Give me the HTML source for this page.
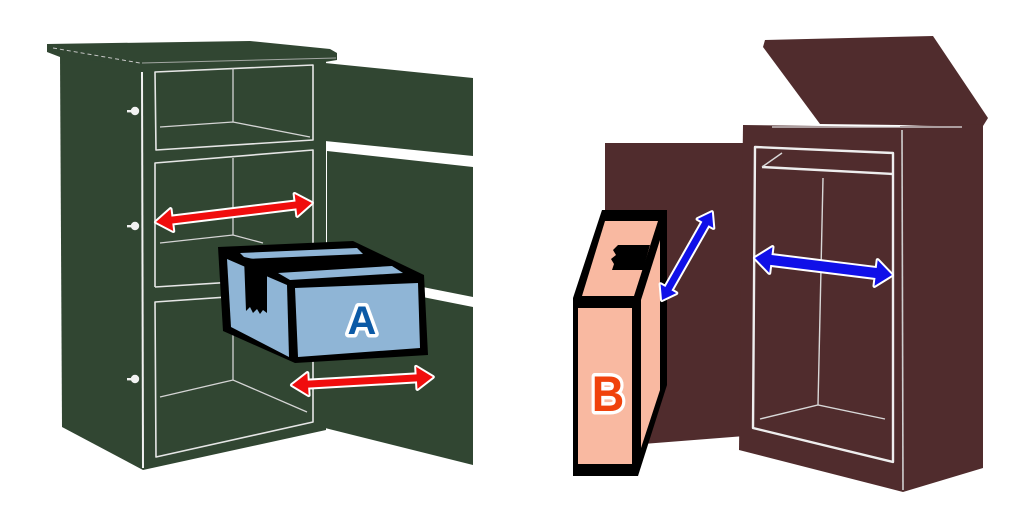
<!DOCTYPE html>
<html>
<head>
<meta charset="utf-8">
<style>
  html,body{margin:0;padding:0;background:#ffffff;}
  body{width:1024px;height:512px;overflow:hidden;}
  svg{display:block;}
</style>
</head>
<body>
<svg width="1024" height="512" viewBox="0 0 1024 512" xmlns="http://www.w3.org/2000/svg">
  <rect x="0" y="0" width="1024" height="512" fill="#ffffff"/>

  <!-- ================= LEFT CABINET (green) ================= -->
  <g fill="#314632">
    <!-- open door panels -->
    <polygon points="325,63 473,78 473,156 325,141"/>
    <polygon points="327,151 473,167 473,297 327,268"/>
    <polygon points="327,278 473,307 473,465 325,428"/>
    <!-- side panel -->
    <polygon points="60,55 141,63 143,470 62,427"/>
    <!-- front -->
    <polygon points="140,62 326,60 326,430 143,470"/>
    <!-- top slab -->
    <polygon points="47,44 250,41 330,49 337,53 337,60 325,62 140,65 60,57 47,52"/>
  </g>
  <!-- slab edge highlights -->
  <line x1="53" y1="48" x2="140" y2="63" stroke="#c8c8c8" stroke-width="1" stroke-dasharray="4 3"/>
  <line x1="142" y1="63" x2="336" y2="58" stroke="#bfbfbf" stroke-width="1" opacity="0.8"/>
  <!-- front/side edge -->
  <line x1="142" y1="72" x2="143" y2="468" stroke="#f2f2f2" stroke-width="2"/>

  <!-- hinges -->
  <g fill="#f2f2f2">
    <circle cx="135" cy="111" r="4.2"/><rect x="127" y="110" width="8" height="2.4"/>
    <circle cx="135" cy="226" r="4.2"/><rect x="127" y="225" width="8" height="2.4"/>
    <circle cx="135" cy="379" r="4.2"/><rect x="127" y="378" width="8" height="2.4"/>
  </g>

  <!-- inner compartments -->
  <g fill="none" stroke="#e6e6e6" stroke-width="1.6" stroke-linejoin="round">
    <polygon points="155,72 313,65 313,140 156,150"/>
    <polyline points="155,287 155,163 313,150 313,422 156,457 155,302 313,291"/>
    <line x1="155" y1="287" x2="313" y2="277"/>
  </g>
  <g fill="none" stroke="#d4d4d4" stroke-width="1.3">
    <polyline points="233,68 233,122"/>
    <polyline points="160,127 233,122 310,137"/>
    <polyline points="233,158 233,235"/>
    <polyline points="160,243 233,235 263,243"/>
    <polyline points="233,297 233,380"/>
    <polyline points="160,397 233,380 307,412"/>
  </g>

  <!-- ================= BOX A ================= -->
  <polygon points="218,247 353,241 424,275 428,355 295,363 223,331" fill="#000000"/>
  <polygon points="227,259 287,285 289,357 231,327" fill="#8fb5d6"/>
  <polygon points="295,288 418,283 420,348 298,357" fill="#8fb5d6"/>
  <polygon points="240,253 357,248 363,254 246,259" fill="#8fb5d6"/>
  <polygon points="278,273 392,266 403,273 290,280" fill="#8fb5d6"/>
  <!-- tape on side -->
  <polygon points="244,257 267,262 267,313 263,310 260,314 257,309 253,313 250,307 246,311" fill="#000000"/>
  <text x="362" y="334" text-anchor="middle" font-family="'Liberation Sans', sans-serif" font-weight="bold" font-size="40" fill="#0c5aa6" stroke="#ffffff" stroke-width="7" stroke-linejoin="round" paint-order="stroke">A</text>

  <!-- red arrows -->
  <g fill="#f00d0d" stroke="#ffffff" stroke-width="4" stroke-linejoin="round" paint-order="stroke">
    <path transform="translate(156,222) rotate(-6.95)" d="M0,0 L16,-11 L16,-3.5 L141,-3.5 L141,-11 L157,0 L141,11 L141,3.5 L16,3.5 L16,11 Z"/>
    <path transform="translate(292,385) rotate(-3.25)" d="M0,0 L16,-11 L16,-3.5 L125,-3.5 L125,-11 L141,0 L125,11 L125,3.5 L16,3.5 L16,11 Z"/>
  </g>

  <!-- ================= RIGHT CABINET (brown) ================= -->
  <g fill="#502c2d">
    <!-- open door -->
    <polygon points="605,143 745,143 745,436 605,447"/>
    <!-- lid -->
    <polygon points="763,47 765,40 933,36 988,118 983,126 820,124"/>
    <!-- front -->
    <polygon points="743,125 902,127 903,492 739,450"/>
    <!-- right side -->
    <polygon points="900,126 983,124 983,468 903,492"/>
  </g>
  <!-- top highlight -->
  <line x1="772" y1="127" x2="962" y2="127" stroke="#e0e0e0" stroke-width="1.5" opacity="0.85"/>
  <!-- front/side edge -->
  <line x1="902" y1="130" x2="903" y2="490" stroke="#cfcfcf" stroke-width="1.6"/>
  <!-- inner frame -->
  <g fill="none" stroke="#eeeeee" stroke-width="2.4" stroke-linejoin="round">
    <polygon points="755,147 893,153 893,462 753,428"/>
    <line x1="762" y1="167" x2="893" y2="174"/>
  </g>
  <g fill="none" stroke="#d8d8d8" stroke-width="1.4">
    <line x1="762" y1="167" x2="782" y2="153"/>
    <line x1="823" y1="178" x2="818" y2="405"/>
    <polyline points="760,419 818,405 885,419"/>
  </g>

  <!-- ================= BOX B ================= -->
  <polygon points="573,298 602,210 667,210 667,385 638,476 573,476" fill="#000000"/>
  <polygon points="582,296 605,221 658,221 634,296" fill="#f9b9a1"/>
  <polygon points="641,300 660,240 660,390 641,448" fill="#f9b9a1"/>
  <polygon points="578,308 632,308 632,464 578,464" fill="#f9b9a1"/>
  <!-- tape on top -->
  <polygon points="618,245 650,245 643,270 612,270 614,264 611,259 616,255 613,250" fill="#000000"/>
  <text transform="translate(608,411) scale(0.9,1)" x="0" y="0" text-anchor="middle" font-family="'Liberation Sans', sans-serif" font-weight="bold" font-size="50" fill="#f0420c" stroke="#ffffff" stroke-width="7" stroke-linejoin="round" paint-order="stroke">B</text>

  <!-- blue arrows -->
  <g fill="#1010e8" stroke="#ffffff" stroke-width="4" stroke-linejoin="round" paint-order="stroke">
    <path transform="translate(662,300) rotate(-60.4)" d="M0,0 L13,-9 L13,-3.5 L88,-3.5 L88,-9 L101,0 L88,9 L88,3.5 L13,3.5 L13,9 Z"/>
    <path transform="translate(755,258) rotate(7.07)" d="M0,0 L16,-13 L16,-5 L122,-5 L122,-13 L138,0 L122,13 L122,5 L16,5 L16,13 Z"/>
  </g>
</svg>
</body>
</html>
